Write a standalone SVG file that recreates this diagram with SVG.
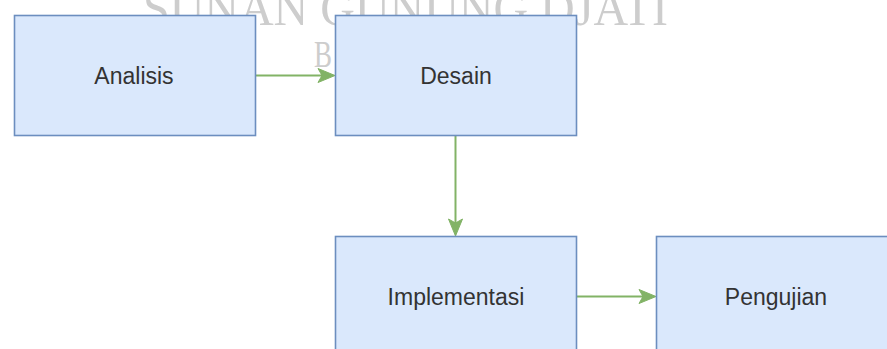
<svg xmlns="http://www.w3.org/2000/svg" width="887" height="349" viewBox="0 0 887 349">
<style>
.box{fill:#dae8fc;stroke:#6c8ebf;stroke-width:1.6}
.lbl{font-family:"Liberation Sans",Arial,sans-serif;font-size:23px;fill:#333;text-anchor:middle}
.wm{font-family:"Liberation Serif","Times New Roman",serif;fill:#cdcdcd}
.edge{stroke:#82b366;stroke-width:2;fill:none}
.head{fill:#82b366;stroke:#82b366;stroke-width:1}
</style>
<rect width="887" height="349" fill="#ffffff"/>
<g id="watermark">
<text class="wm" x="143" y="25" font-size="50" textLength="525" lengthAdjust="spacingAndGlyphs">SUNAN GUNUNG DJATI</text>
<text class="wm" x="314" y="67" font-size="38" textLength="18" lengthAdjust="spacingAndGlyphs">B</text>
</g>
<g id="connectors">
<path class="edge" d="M256,75.5 H322"/>
<path class="head" d="M335,75.5 L318,68.5 L322,75.5 L318,82.5 Z"/>
<path class="edge" d="M455.5,136 V223"/>
<path class="head" d="M455.5,236 L448.5,219 L455.5,223 L462.5,219 Z"/>
<path class="edge" d="M577,296.5 H643"/>
<path class="head" d="M656,296.5 L639,289.5 L643,296.5 L639,303.5 Z"/>
</g>
<g id="analisis">
<rect class="box" x="14.5" y="15.5" width="241" height="120"/>
<text class="lbl" x="134" y="84">Analisis</text>
</g>
<g id="desain">
<rect class="box" x="335.5" y="15.5" width="241" height="120"/>
<text class="lbl" x="456" y="84">Desain</text>
</g>
<g id="implementasi">
<rect class="box" x="335.5" y="236.5" width="241" height="120"/>
<text class="lbl" x="456" y="305">Implementasi</text>
</g>
<g id="pengujian">
<rect class="box" x="656.5" y="236.5" width="241" height="120"/>
<text class="lbl" x="776" y="305">Pengujian</text>
</g>
</svg>
